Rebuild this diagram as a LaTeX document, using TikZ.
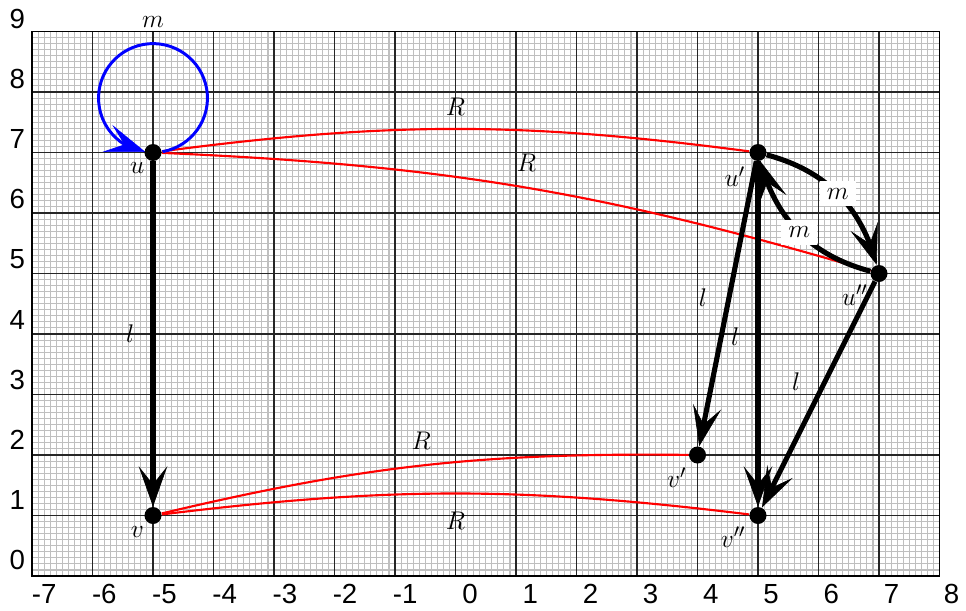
\documentclass[tikz,border=0pt]{standalone}
\usepackage{fontspec}
\newfontfamily\axisfont{Liberation Sans}
\usetikzlibrary{arrows.meta,bending}
\pgfdeclarelayer{bg}
\pgfsetlayers{bg,main}
\begin{document}
\begin{tikzpicture}[
  >={Stealth[length=19pt,width=13.5pt,inset=8.5pt,line width=0.3pt]},
  vtx/.style={circle, fill=black, inner sep=0pt, minimum size=8pt},
  lab/.style={font=\fontsize{13}{15}\selectfont, text=black, inner sep=1pt},
  mlab/.style={font=\fontsize{13}{15}\selectfont, text=black, fill=white, inner sep=3.2pt},
  heavy/.style={line width=2.4pt, ->},
  redge/.style={red, line width=1pt},
  loopedge/.style={blue, line width=1.4pt, ->},
  ax/.style={font=\axisfont\fontsize{13}{15}\selectfont, inner sep=0pt},
  minorgrid/.style={gray!50, line width=0.5pt},
  majorgrid/.style={black!85, line width=0.6pt}
]
\useasboundingbox (-0.529,-0.562) rectangle (15.438,9.521);

% vertices
\node[vtx] (u)   at (2,7)  {};
\node[vtx] (u1)  at (12,7) {};
\node[vtx] (u2)  at (14,5) {};
\node[vtx] (v)   at (2,1)  {};
\node[vtx] (v1)  at (11,2) {};
\node[vtx] (v2)  at (12,1) {};

% vertex labels
\node[lab] (lu)  at (1.74,6.74) {$u$};
\node[lab] (lu1) at (11.62,6.60) {$u'$};
\node[lab] (lu2) at (13.60,4.64) {$u''$};
\node[lab] (lv)  at (1.74,0.73) {$v$};
\node[lab] (lv1) at (10.66,1.62) {$v'$};
\node[lab] (lv2) at (11.59,0.64) {$v''$};
\node[lab] (lm)  at (2,9.15) {$m$};

% axis labels
\foreach \k in {-7,...,8}
  \node[ax, anchor=east] (xl\k) at ({0.41+(\k+7)*0.995}, -0.30) {\k};
\foreach \k in {0,...,9}
  \node[ax, anchor=east] (yl\k) at (-0.11, {0.26+\k*0.994}) {\k};

\begin{pgfonlayer}{bg}
  % graph paper
  \draw[minorgrid, step=0.1] (0,0) grid (15,9);
  \draw[majorgrid, step=1] (0,0) grid (15,9);
  \draw[black, line width=0.8pt] (0,0) rectangle (15,9);

  % red edges
  \draw[redge] (u) to[bend left=7.5] node[lab, midway, yshift=0.36cm] {$R$} (u1);
  \draw[redge] (u) to[bend left=7] node[lab, midway, xshift=0.1cm, yshift=0.39cm] {$R$} (u2);
  \draw[redge] (v) to[bend left=7] node[lab, midway, xshift=-0.03cm, yshift=0.40cm] {$R$} (v1);
  \draw[redge] (v) to[bend left=7] node[lab, midway, yshift=-0.45cm] {$R$} (v2);

  % blue loop
  \draw[loopedge] ([shift={(0,0.9)}]u.center) ++(-80:0.9) arc[start angle=-80, end angle=262, radius=0.9];

  % heavy edges
  \draw[heavy] (u) -- node[lab, midway, xshift=-0.38cm] {$l$} (v);
  \draw[heavy] (u1) -- node[lab, midway, xshift=-0.41cm, yshift=0.10cm] {$l$} (v1);
  \draw[heavy] (u1) -- node[lab, midway, xshift=-0.38cm, yshift=-0.05cm] {$l$} (v2);
  \draw[heavy] (u2) -- node[lab, midway, xshift=-0.37cm, yshift=0.21cm] {$l$} (v2);
  \draw[heavy] (u1) to[bend left=30] node[mlab, midway] {$m$} (u2);
  \draw[heavy] (u2) to[bend left=30] node[mlab, midway] {$m$} (u1);
\end{pgfonlayer}
\end{tikzpicture}
\end{document}
